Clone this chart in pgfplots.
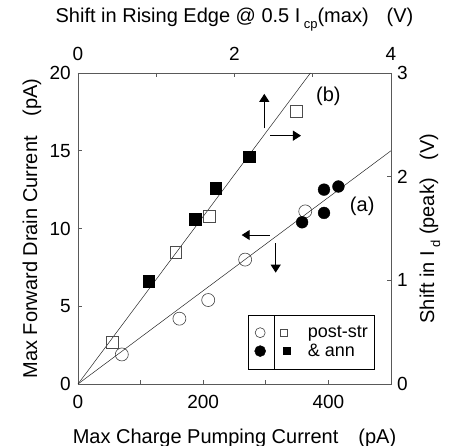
\documentclass[border=0pt]{standalone}
\usepackage{pgfplots}
\pgfplotsset{compat=1.18}
\usepackage{fontspec}
\setmainfont{Liberation Sans}
\usetikzlibrary{arrows.meta}
\newcommand{\tickfont}{\fontsize{19}{22}\selectfont}
\newcommand{\labfont}{\fontsize{20}{24}\selectfont}
\newcommand{\legfont}{\fontsize{18}{21}\selectfont}
\newcommand{\legbox}{\pgfpathrectangle{\pgfpoint{-6pt}{-9pt}}{\pgfpoint{12pt}{18pt}}\pgfusepath{discard}}
\pgfplotsset{
  limgOC/.style={legend image code/.code={\legbox
     \draw[black!75, line width=0.6pt] plot[only marks, mark=o, mark size=5pt] coordinates {(0pt,0pt)};}},
  limgFC/.style={legend image code/.code={\legbox
     \draw[black, fill=black] plot[only marks, mark=*, mark size=5.5pt] coordinates {(0pt,0pt)};}},
  limgOS/.style={legend image code/.code={\legbox
     \draw[black!70, line width=0.6pt] plot[only marks, mark=square, mark size=3.5pt] coordinates {(-1.5pt,0pt)};}},
  limgFS/.style={legend image code/.code={\legbox
     \draw[black, fill=black] plot[only marks, mark=square*, mark size=3.6pt] coordinates {(1.5pt,0pt)};}},
}
\begin{document}
\begin{tikzpicture}
\path[use as bounding box] (-78pt,-62pt) rectangle (372pt,384pt);
\begin{axis}[
  at={(0pt,0pt)}, anchor=south west,
  scale only axis, width=313pt, height=311pt,
  xmin=0, xmax=500, ymin=0, ymax=20,
  xtick={0,100,200,300,400}, xticklabels={0,,200,,400},
  ytick={0,5,10,15,20},
  xtick pos=left, ytick pos=left,
  tick align=inside, major tick length=4pt,
  axis line style={black!65, line width=0.6pt},
  tick style={black!65, line width=0.6pt},
  /pgf/number format/assume math mode=true,
  ticklabel style={font=\tickfont},
  xticklabel style={yshift=-7.7pt},
  yticklabel style={xshift=-3.7pt},
  xlabel={Max Charge Pumping Current\hspace{20pt}(pA)},
  ylabel={Max Forward Drain Current\hspace{20pt}(pA)},
  x label style={font=\labfont, at={([yshift=-54pt]axis description cs:0.5,0)}, anchor=center},
  y label style={font=\labfont, at={([xshift=-46pt]axis description cs:0,0.5)}, anchor=center},
  clip=false,
  legend columns=2,
  legend style={at={(axis description cs:0.544,0.0473)}, anchor=south west,
    draw=none, fill=white, inner xsep=5.7pt, inner ysep=9pt,
    row sep=0.4pt, column sep=6.15pt, font=\legfont,
    nodes={inner sep=0pt}},
  legend cell align=left,
]
% line (a)
\addplot[black!85, line width=0.5pt, forget plot] coordinates {(0,0) (500,15)};
% open circles: post-str
\addplot[only marks, mark=o, mark size=6.5pt, mark options={black!75, line width=0.6pt, fill=white}, forget plot]
  coordinates {(70,1.9) (162,4.2) (208,5.4) (267,8.0) (363,11.1)};
% filled circles: & ann
\addplot[only marks, mark=*, mark size=5.9pt, mark options={black, fill=black}, forget plot]
  coordinates {(358,10.4) (393,11.0) (393,12.5) (416,12.7)};
% arrows
\draw[line width=1.1pt, -{Triangle[length=8pt, width=10pt]}] (axis cs:297.6,16.44) -- (axis cs:297.6,18.66);
\draw[line width=0.9pt, -{Triangle[length=8pt, width=10pt]}] (axis cs:307.5,15.97) -- (axis cs:356.2,15.97);
\draw[line width=0.9pt, -{Triangle[length=8pt, width=10pt]}] (axis cs:306.7,9.58) -- (axis cs:261.5,9.58);
\draw[line width=1.1pt, -{Triangle[length=8pt, width=10pt]}] (axis cs:315.8,9.05) -- (axis cs:315.8,7.16);
\node[font=\labfont] at (axis cs:399.9,18.48) {(b)};
\node[font=\labfont] at (axis cs:454,11.4) {(a)};
% legend
\addlegendimage{limgOC}
\addlegendentry{}
\addlegendimage{limgOS}
\addlegendentry{\hspace*{10.25pt}post-str\hspace*{2.6pt}}
\addlegendimage{limgFC}
\addlegendentry{}
\addlegendimage{limgFS}
\addlegendentry{\hspace*{10.25pt}\& ann}
\end{axis}
\begin{axis}[
  at={(0pt,0pt)}, anchor=south west,
  scale only axis, width=313pt, height=311pt,
  xmin=0, xmax=4, ymin=0, ymax=3,
  axis x line*=top, axis y line*=right,
  xtick={0,1,2,3,4}, xticklabels={0,,2,,4},
  ytick={0,1,2,3},
  tick align=inside, major tick length=4pt,
  axis line style={black!65, line width=0.6pt},
  tick style={black!65, line width=0.6pt},
  /pgf/number format/assume math mode=true,
  ticklabel style={font=\tickfont},
  xticklabel style={yshift=8.7pt},
  yticklabel style={xshift=2.7pt},
  xlabel={Shift in Rising Edge @ 0.5 I\,\raisebox{-6pt}{\fontsize{13}{13}\selectfont cp}(max)\hspace{18pt}(V)},
  ylabel={Shift in I\,\raisebox{-6pt}{\fontsize{13}{13}\selectfont d} (peak)\hspace{18pt}(V)},
  x label style={font=\labfont, at={([yshift=53pt]axis description cs:0.5,1)}, anchor=center},
  y label style={font=\labfont, at={([xshift=39pt]axis description cs:1,0.5)}, anchor=center},
  clip=false,
]
% line (b)
\addplot[black!85, line width=0.5pt] coordinates {(0,0) (2.97,3.0)};
% open squares: post-str
\addplot[only marks, mark=square, mark size=5.8pt, mark options={black!70, line width=0.6pt, fill=white}]
  coordinates {(0.44,0.40) (1.25,1.27) (1.68,1.62) (2.79,2.63)};
% filled squares: & ann
\addplot[only marks, mark=square*, mark size=5.7pt, mark options={black, fill=black}]
  coordinates {(0.90,0.99) (1.50,1.59) (1.76,1.89) (2.19,2.19)};
% legend frame and divider
\draw[black, line width=0.8pt] (rel axis cs:0.544,0.0473) -- (rel axis cs:0.9466,0.0473) -- (rel axis cs:0.9466,0.2219) -- (rel axis cs:0.544,0.2219) -- cycle;
\draw[black, line width=0.7pt] (rel axis cs:0.6285,0.0473) -- (rel axis cs:0.6285,0.2219);
\end{axis}
\end{tikzpicture}
\end{document}
